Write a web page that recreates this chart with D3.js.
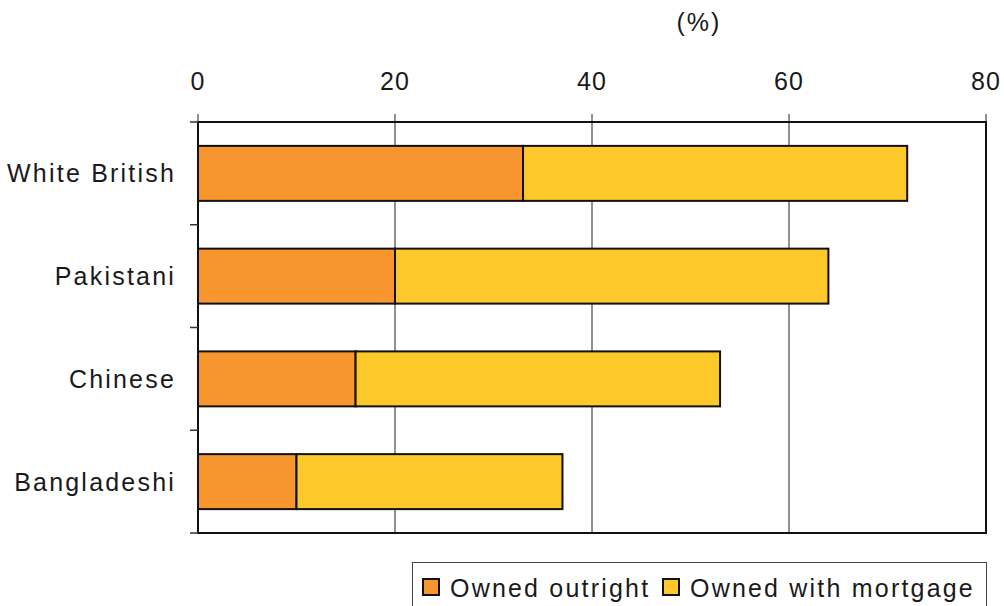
<!DOCTYPE html>
<html>
<head>
<meta charset="utf-8">
<script src="https://cdn.jsdelivr.net/npm/d3@7"></script>
<style>
  body { margin: 0; background: #fff; }
  text { font-family: "Liberation Sans", Arial, sans-serif; fill: #1a1a1a; }
</style>
</head>
<body>
<div id="chart"></div>
<script>
// data
const categories = ["White British", "Pakistani", "Chinese", "Bangladeshi"];
const ownedOutright = [33, 20, 16, 10];
const ownedWithMortgage = [39, 44, 37, 27];
const seriesNames = ["Owned outright", "Owned with mortgage"];
const xTicks = [0, 20, 40, 60, 80];

const colors = ["#f7962f", "#fdc92a"];

const width = 1004, height = 606;
const margin = {top: 122, right: 18, bottom: 73, left: 198};

const svg = d3.select("#chart").append("svg")
  .attr("width", width)
  .attr("height", height);

const x = d3.scaleLinear()
  .domain([0, 80])
  .range([margin.left, width - margin.right]);

const y = d3.scaleBand()
  .domain(categories)
  .range([margin.top, height - margin.bottom])
  .paddingInner(0.465)
  .paddingOuter(0.2325);

// gridlines, extending a little above the frame
svg.append("g")
  .selectAll("line")
  .data(xTicks)
  .join("line")
  .attr("x1", d => x(d)).attr("x2", d => x(d))
  .attr("y1", margin.top - 8).attr("y2", height - margin.bottom)
  .attr("stroke", "#222")
  .attr("stroke-width", 1);

// tick labels on top
svg.append("g")
  .selectAll("text")
  .data(xTicks)
  .join("text")
  .attr("x", d => x(d))
  .attr("y", 90)
  .attr("text-anchor", "middle")
  .style("font-size", "25px")
  .style("letter-spacing", "1px")
  .text(d => d);

svg.append("text")
  .attr("x", 699)
  .attr("y", 31)
  .attr("text-anchor", "middle")
  .style("font-size", "25px")
  .style("letter-spacing", "2px")
  .text("(%)");

// frame
svg.append("rect")
  .attr("x", x(0))
  .attr("y", margin.top)
  .attr("width", x(80) - x(0))
  .attr("height", height - margin.bottom - margin.top)
  .attr("fill", "none")
  .attr("stroke", "#111")
  .attr("stroke-width", 2);

// left ticks at the category boundaries
const step = y.step();
const boundaries = d3.range(categories.length + 1).map(i => margin.top + i * step);
svg.append("g")
  .selectAll("line")
  .data(boundaries)
  .join("line")
  .attr("x1", x(0) - 8).attr("x2", x(0))
  .attr("y1", d => d).attr("y2", d => d)
  .attr("stroke", "#333")
  .attr("stroke-width", 1.5);

// stacked bars
const rows = categories.map((c, i) => ({cat: c, a: ownedOutright[i], b: ownedWithMortgage[i]}));
const stack = d3.stack().keys(["a", "b"])(rows);

svg.append("g")
  .selectAll("g")
  .data(stack)
  .join("g")
  .attr("fill", (d, i) => colors[i])
  .selectAll("rect")
  .data(d => d)
  .join("rect")
  .attr("x", d => x(d[0]))
  .attr("y", d => y(d.data.cat))
  .attr("width", d => x(d[1]) - x(d[0]))
  .attr("height", y.bandwidth())
  .attr("stroke", "#111")
  .attr("stroke-width", 2);

// category labels
svg.append("g")
  .selectAll("text")
  .data(categories)
  .join("text")
  .attr("x", 176)
  .attr("y", d => y(d) + y.bandwidth() / 2)
  .attr("dy", "0.36em")
  .attr("text-anchor", "end")
  .style("font-size", "25px")
  .style("letter-spacing", "2.2px")
  .text(d => d);

// legend
const legend = svg.append("g");
legend.append("rect")
  .attr("x", 412.5).attr("y", 562.5)
  .attr("width", 574).attr("height", 50)
  .attr("fill", "#fff")
  .attr("stroke", "#444")
  .attr("stroke-width", 1);

const legendX = [423, 663];
seriesNames.forEach((name, i) => {
  legend.append("rect")
    .attr("x", legendX[i]).attr("y", 579)
    .attr("width", 16).attr("height", 16)
    .attr("fill", colors[i])
    .attr("stroke", "#111")
    .attr("stroke-width", 2);
  legend.append("text")
    .attr("x", legendX[i] + 27)
    .attr("y", 597)
    .style("font-size", "25px")
    .style("letter-spacing", "2.2px")
    .text(name);
});
</script>
</body>
</html>
